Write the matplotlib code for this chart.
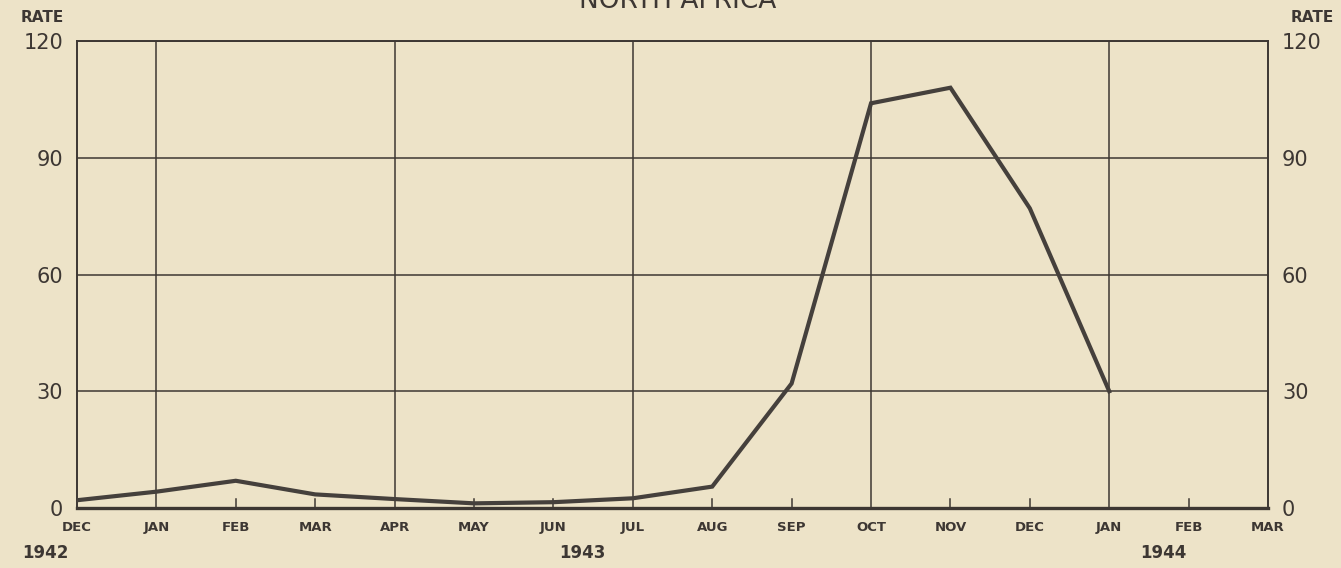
import numpy as np
import matplotlib.pyplot as plt

# monthly rate, Dec 1942 .. Jan 1944 (Feb, Mar 1944 empty)
months = ["DEC", "JAN", "FEB", "MAR", "APR", "MAY", "JUN", "JUL",
          "AUG", "SEP", "OCT", "NOV", "DEC", "JAN", "FEB", "MAR"]
rate = [2.0, 4.2, 7.0, 3.5, 2.3, 1.2, 1.5, 2.5, 5.5, 32, 104, 108, 77, 30]
years = ["1942", "1943", "1944"]
year_pos = [-0.4, 6.37, 13.68]
yticks = [0, 30, 60, 90, 120]

bg = "#ede3c8"
ink = "#3d3733"

fig = plt.figure(figsize=(13.41, 5.68), dpi=100, facecolor=bg)
ax = fig.add_axes([0.0574, 0.1056, 0.8882, 0.8222])
ax.set_facecolor(bg)

x = np.arange(len(months))
ax.plot(x[:len(rate)], rate, color="#45403c", lw=3.0, solid_joinstyle="miter", zorder=3)

ax.set_xlim(0, len(months) - 1)
ax.set_ylim(0, 120)

# quarterly vertical grid, horizontal grid at 30s
for q in [1, 4, 7, 10, 13]:
    ax.axvline(q, color=ink, lw=1.1, zorder=1)
for h in yticks[1:]:
    ax.axhline(h, color=ink, lw=1.1, zorder=1)

# short month ticks on the baseline
for m in x:
    if m not in (0, 1, 4, 7, 10, 13, 15):
        ax.plot([m, m], [0, 2.2], color=ink, lw=1.1, zorder=1)

for side in ["left", "right", "top"]:
    ax.spines[side].set_color(ink)
    ax.spines[side].set_linewidth(1.4)
ax.spines["bottom"].set_color(ink)
ax.spines["bottom"].set_linewidth(2.4)

ax.set_xticks(x)
ax.set_xticklabels(months, fontsize=9.5, fontfamily="DejaVu Sans", color=ink,
                   fontweight="semibold")
ax.tick_params(axis="x", length=0, pad=9)

ax.set_yticks(yticks)
ax.set_yticklabels([str(v) for v in yticks], fontsize=15, color=ink)
ax.tick_params(axis="y", length=0, pad=10, labelleft=True, labelright=True)

for name, p in zip(years, year_pos):
    ax.text(p, -0.097, name, transform=ax.get_xaxis_transform(),
            ha="center", va="center", fontsize=12, color=ink, fontweight="semibold")

fig.text(42 / 1341, 1 - 18 / 568, "RATE", ha="center", va="center",
         fontsize=11, color=ink, fontweight="bold")
fig.text(1312 / 1341, 1 - 18 / 568, "RATE", ha="center", va="center",
         fontsize=11, color=ink, fontweight="bold")
fig.text(0.505, 1 - 8 / 568, "NORTH AFRICA", ha="center", va="baseline",
         fontsize=19, color=ink)

fig.savefig("out.png", dpi=100, facecolor=bg)
